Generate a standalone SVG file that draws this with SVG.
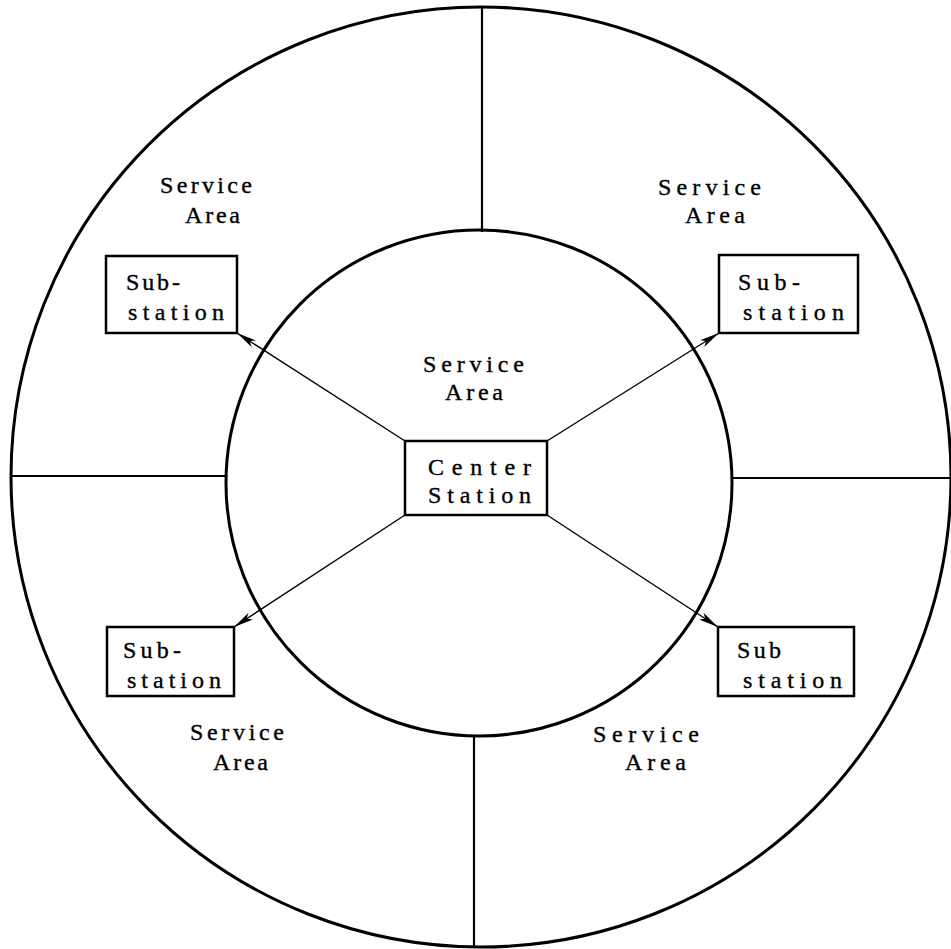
<svg xmlns="http://www.w3.org/2000/svg" width="951" height="949" viewBox="0 0 951 949">
<style>
.ring{fill:none;stroke:#000;stroke-width:3}
.div{stroke:#000;stroke-width:2.2}
.box{fill:#fff;stroke:#000;stroke-width:2.5}
.conn{stroke:#000;stroke-width:1.4;fill:none}
text{font-family:"Liberation Serif","Times New Roman",serif;font-size:24px;fill:#000;stroke:#000;stroke-width:0.35}
</style>
<defs>
<marker id="arr" viewBox="0 0 20 8" refX="20" refY="4" markerWidth="20" markerHeight="8" markerUnits="userSpaceOnUse" orient="auto">
<path d="M0,0 L20,4 L0,8 L5,4 Z" fill="#000"/>
</marker>
</defs>
<rect width="951" height="949" fill="#fff"/>
<g id="areas">
<circle class="ring" cx="481" cy="477" r="470"/>
<circle class="ring" cx="479" cy="483" r="253"/>
<line class="div" x1="482" y1="7" x2="482" y2="232"/>
<line class="div" x1="474" y1="735" x2="474" y2="947"/>
<line class="div" x1="12" y1="476" x2="226" y2="476"/>
<line class="div" x1="732" y1="478" x2="950" y2="478"/>
</g>
<g id="labels">
<text x="160" y="193" textLength="92" lengthAdjust="spacing">Service</text>
<text x="185" y="223" textLength="55" lengthAdjust="spacing">Area</text>
<text x="658" y="195" textLength="103" lengthAdjust="spacing">Service</text>
<text x="685" y="223" textLength="60" lengthAdjust="spacing">Area</text>
<text x="423" y="372" textLength="101" lengthAdjust="spacing">Service</text>
<text x="445" y="400" textLength="58" lengthAdjust="spacing">Area</text>
<text x="190" y="740" textLength="94" lengthAdjust="spacing">Service</text>
<text x="213" y="770" textLength="55" lengthAdjust="spacing">Area</text>
<text x="593" y="742" textLength="106" lengthAdjust="spacing">Service</text>
<text x="625" y="770" textLength="61" lengthAdjust="spacing">Area</text>
</g>
<g id="connectors">
<line class="conn" x1="405" y1="441" x2="237" y2="333" marker-end="url(#arr)"/>
<line class="conn" x1="547" y1="441" x2="719" y2="333" marker-end="url(#arr)"/>
<line class="conn" x1="405" y1="515" x2="234" y2="627" marker-end="url(#arr)"/>
<line class="conn" x1="547" y1="515" x2="718" y2="627" marker-end="url(#arr)"/>
</g>
<g id="center-station">
<rect class="box" x="405" y="441" width="142" height="74"/>
<text x="428" y="475" textLength="103" lengthAdjust="spacing">Center</text>
<text x="428" y="503" textLength="103" lengthAdjust="spacing">Station</text>
</g>
<g id="substation-tl">
<rect class="box" x="106" y="256" width="131" height="77"/>
<text x="126" y="290" textLength="54" lengthAdjust="spacing">Sub-</text>
<text x="128" y="320" textLength="96" lengthAdjust="spacing">station</text>
</g>
<g id="substation-tr">
<rect class="box" x="719" y="255" width="139" height="78"/>
<text x="738" y="290" textLength="62" lengthAdjust="spacing">Sub-</text>
<text x="743" y="320" textLength="101" lengthAdjust="spacing">station</text>
</g>
<g id="substation-bl">
<rect class="box" x="107" y="627" width="127" height="69"/>
<text x="123" y="658" textLength="58" lengthAdjust="spacing">Sub-</text>
<text x="127" y="688" textLength="94" lengthAdjust="spacing">station</text>
</g>
<g id="substation-br">
<rect class="box" x="718" y="627" width="136" height="69"/>
<text x="737" y="658" textLength="44" lengthAdjust="spacing">Sub</text>
<text x="743" y="688" textLength="99" lengthAdjust="spacing">station</text>
</g>
</svg>
